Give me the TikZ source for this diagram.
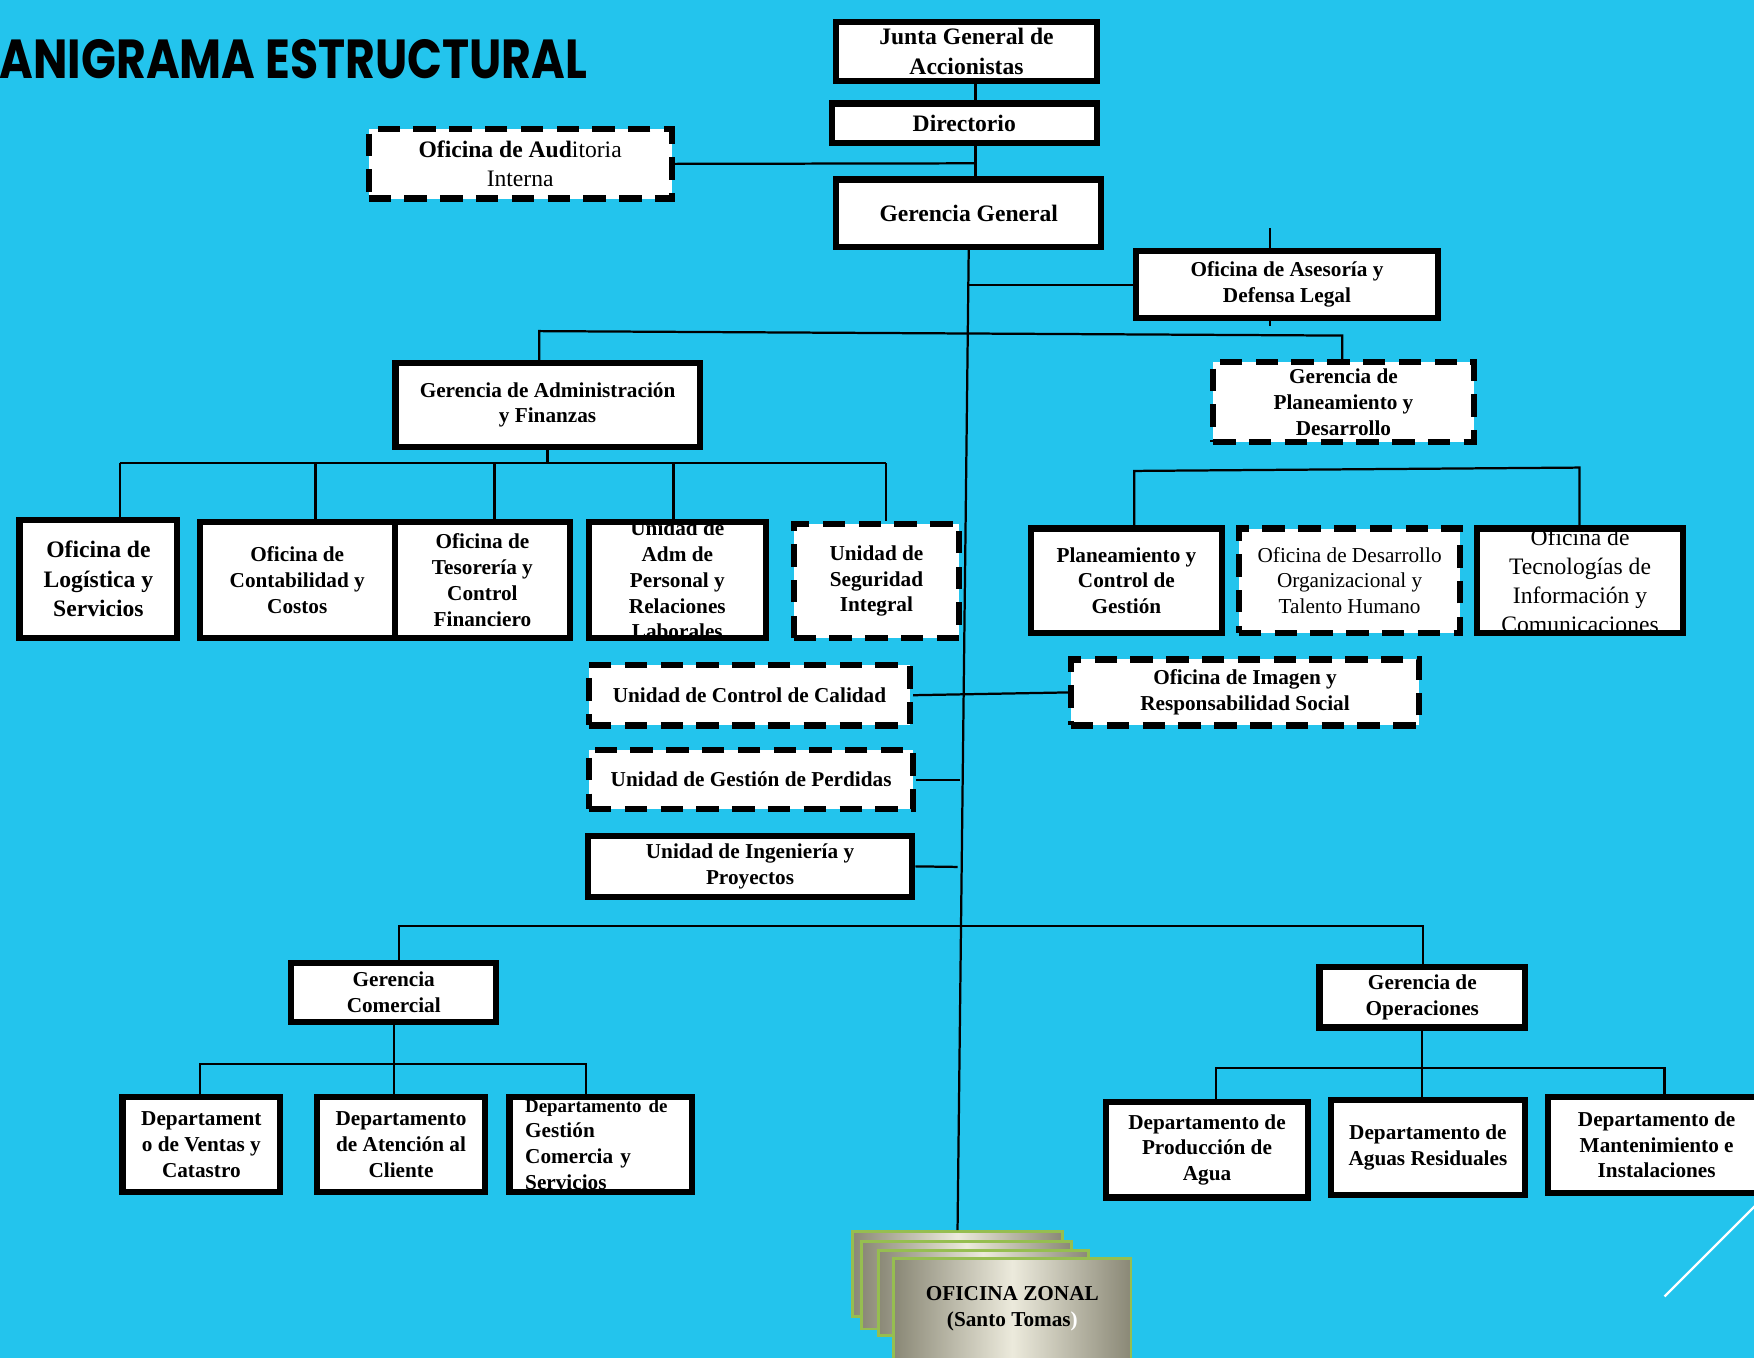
\documentclass[tikz,border=0pt]{standalone}
\usepackage{fontspec}
\setmainfont{Liberation Serif}
\setsansfont{Poppins}
\usetikzlibrary{positioning}
\newlength{\pxu}
\setlength{\pxu}{0.025cm}
\definecolor{bgcyan}{RGB}{35,196,237}
\definecolor{zgray}{RGB}{138,136,118}
\definecolor{zlight}{RGB}{236,234,220}
\definecolor{zgreen}{RGB}{150,190,80}

\tikzset{
  wh/.style 2 args={minimum width=#1\pxu, minimum height=#2\pxu},
  sbox/.style={draw, line width=5.5\pxu, fill=white, inner sep=0pt, align=center,
    font=\bfseries\fontsize{13.5}{16.4}\selectfont},
  dbox/.style={sbox, dash pattern=on 20\pxu off 12\pxu},
  bigtxt/.style={font=\bfseries\fontsize{15}{18.5}\selectfont},
  regtxt/.style={font=\fontsize{13.5}{16.4}\selectfont},
  ltxt/.style={align=center, inner sep=0pt, font=\bfseries\fontsize{13.5}{16.4}\selectfont},
  link/.style={line width=2\pxu},
  zbox/.style={draw=zgreen, line width=2.5\pxu, left color=zgray, right color=zgray,
    middle color=zlight, inner sep=0pt, align=center,
    font=\bfseries\fontsize{13.5}{16.4}\selectfont}
}

\begin{document}
\begin{tikzpicture}[x=0.025cm, y=-0.025cm]
    % Background
    \useasboundingbox (0,0) rectangle (1568,1214);
    \clip (0,0) rectangle (1568,1214);
    \fill[bgcyan] (0,0) rectangle (1568,1214);

    % Title
    \node[anchor=base east, inner sep=0pt] (title) at (525,70)
        {\resizebox{615\pxu}{35\pxu}{\sffamily\bfseries ORGANIGRAMA ESTRUCTURAL}};

    % Top of the chart
    \node[sbox, bigtxt, wh={233}{53}] (junta) at (864,46) {Junta General de\\Accionistas};
    \node[sbox, bigtxt, wh={237}{35}] (dir) at (862,110) {Directorio};
    \node[dbox, wh={271}{62}, font=\fontsize{15}{18.5}\selectfont] (audit) at (465,146.5)
        {\textbf{Oficina de Aud}itoria\\Interna};
    \node[sbox, bigtxt, wh={237}{60}] (gg) at (866,190.5) {Gerencia General};
    \node[sbox, wh={270}{60}] (ases) at (1150.5,254.5) {Oficina de Asesoría y\\Defensa Legal};
    \node[sbox, wh={272}{75}] (gaf) at (489.5,362) {Gerencia de Administración\\y Finanzas};
    \node[dbox, wh={233}{72}] (gpd) at (1201,359.5) {Gerencia de\\Planeamiento y\\Desarrollo};

    % Offices under administration
    \node[sbox, bigtxt, wh={141}{106}] (log) at (88,517.5) {Oficina de\\Logística y\\Servicios};
    \node[sbox, wh={174.5}{104}] (cont) at (265.75,518.5) {Oficina de\\Contabilidad y\\Costos};
    \node[sbox, wh={156.5}{104}] (tes) at (431.25,518.5) {Oficina de\\Tesorería y\\Control\\Financiero};
    \node[sbox, wh={158}{104},
        label={[ltxt]center:{Unidad de\\Adm de\\Personal y\\Relaciones\\Laborales}}] (adm) at (605.5,518.5) {};
    \node[dbox, wh={148}{102}] (seg) at (783.5,519.5) {Unidad de\\Seguridad\\Integral};

    % Offices under planning
    \node[sbox, wh={171}{93}] (pcg) at (1007,519) {Planeamiento y\\Control de\\Gestión};
    \node[dbox, regtxt, wh={198}{93}] (dot) at (1206.5,519) {Oficina de Desarrollo\\Organizacional y\\Talento Humano};
    \node[sbox, wh={184}{93},
        label={[ltxt, font=\fontsize{15}{18.5}\selectfont]center:{Oficina de\\Tecnologías de\\Información y\\Comunicaciones}}] (tic) at (1412.5,519) {};

    % Units along the trunk
    \node[dbox, wh={287}{54}] (ucc) at (670,621.5) {Unidad de Control de Calidad};
    \node[dbox, wh={311}{59}] (ima) at (1113,619) {Oficina de Imagen y\\Responsabilidad Social};
    \node[dbox, wh={290}{53}] (ugp) at (671.5,697) {Unidad de Gestión de Perdidas};
    \node[sbox, wh={290}{54}] (uip) at (670.5,774.5) {Unidad de Ingeniería y\\Proyectos};

    % Commercial and operations
    \node[sbox, wh={183}{53}] (gcom) at (352,887) {Gerencia\\Comercial};
    \node[sbox, wh={184}{54}] (gop) at (1271.5,891.5) {Gerencia de\\Operaciones};
    \node[sbox, wh={141}{85}] (dvc) at (180,1023) {Departament\\o de Ventas y\\Catastro};
    \node[sbox, wh={150}{85}] (dac) at (358.5,1023) {Departamento\\de Atención al\\Cliente};
    \node[sbox, wh={163}{85},
        label={[ltxt, align=left, text width=135\pxu]center:{{\fontsize{12}{14}\selectfont Departamento de}\\Gestión\\Comercia y\\Servicios}}] (dgc) at (537,1023) {};
    \node[sbox, wh={181}{85}] (dpa) at (1079,1028) {Departamento de\\Producción de\\Agua};
    \node[sbox, wh={174}{85}] (dar) at (1276.5,1026) {Departamento de\\Aguas Residuales};
    \node[sbox, wh={194}{86}] (dmi) at (1481,1023.5) {Departamento de\\Mantenimiento e\\Instalaciones};

    % Zonal office stack
    \node[zbox, wh={188}{76}] (z1) at (856,1139) {};
    \node[zbox, wh={188}{78}] (z2) at (864,1149) {};
    \node[zbox, wh={188}{76}] (z3) at (879,1156) {};
    \node[zbox, wh={212}{90}] (z4) at (905,1170) {OFICINA ZONAL\\(Santo Tomas\textcolor{white}{)}};

    % Helper points
    \coordinate (t1) at (872,146);
    \coordinate (astub) at (1135,204);
    \coordinate (tb1) at (482,296);
    \coordinate (tb2) at (1200,300);
    \coordinate (abl) at (107,414);
    \coordinate (abr) at (792,414);
    \coordinate (pb1) at (1014,421);
    \coordinate (pb2) at (1412,418);
    \coordinate (e1) at (858,697);
    \coordinate (e2) at (856,775);
    \coordinate (lb1) at (357,828);
    \coordinate (lb2) at (1272,828);
    \coordinate (cb1) at (179,951);
    \coordinate (cb2) at (524,951);
    \coordinate (ob1) at (1087,955);
    \coordinate (ob2) at (1488,955);

    % Connectors
    \draw[link] (junta.south -| t1) -- (dir.north -| t1);
    \draw[link] (dir.south -| t1) -- (gg.north -| t1);
    \draw[link] (audit.east) -- (t1);
    \draw[link] (gg.south) -- (z1.north);
    \draw[link] (ases.west) -- (ases.west -| gg.south);
    \draw[link] (astub) -- (astub |- ases.north);
    \draw[link] (astub |- ases.south) -- ++(0,4);
    \draw[link] (tb1 |- gaf.north) -- (tb1) -- (tb2) -- (tb2 |- gpd.north);

    \draw[link] (gaf.south) -- (gaf.south |- abl);
    \draw[link] (abl) -- (abr);
    \foreach \n/\x in {log/107, cont/282, tes/442, adm/602, seg/792}
        \draw[link] (\x,414) -- (\x,414 |- \n.north);

    \draw[link] (pcg.north -| pb1) -- (pb1) -- (pb2) -- (pb2 |- tic.north);

    \draw[link] (ucc.east) -- (ima.west);
    \draw[link] (ugp.east) -- (e1);
    \draw[link] (uip.east) -- (e2);

    \draw[link] (lb1 |- gcom.north) -- (lb1) -- (lb2) -- (lb2 |- gop.north);
    \draw[link] (gcom.south) -- (gcom.south |- dac.north);
    \draw[link] (cb1 |- dvc.north) -- (cb1) -- (cb2) -- (cb2 |- dgc.north);
    \draw[link] (gop.south) -- (gop.south |- dar.north);
    \draw[link] (ob1 |- dpa.north) -- (ob1) -- (ob2) -- (ob2 |- dmi.north);

    % Corner line
    \draw[white, line width=2\pxu] (1488,1159) -- (1580,1067);
\end{tikzpicture}
\end{document}
